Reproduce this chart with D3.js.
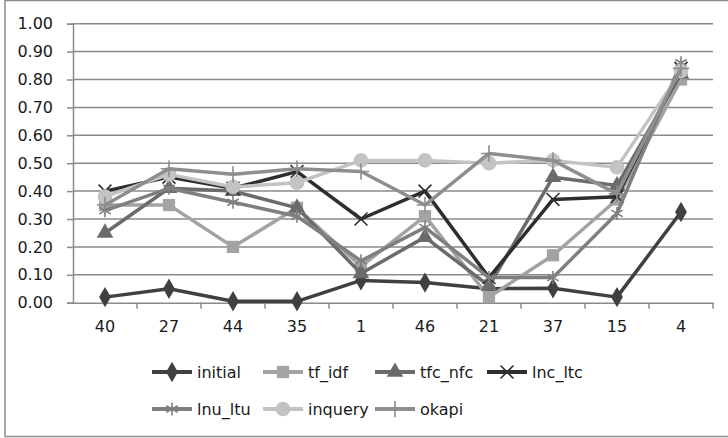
<!DOCTYPE html>
<html>
<head>
<meta charset="utf-8">
<script src="https://cdn.jsdelivr.net/npm/d3@7"></script>
<style>
  body { margin: 0; background: #fff; }
  svg { display: block; font-family: "DejaVu Sans", sans-serif; }
</style>
</head>
<body>
<svg id="chart" width="728" height="438"></svg>
<script>
(function() {
    'use strict';

    // query ids along the x axis
    var categories = ['40', '27', '44', '35', '1', '46', '21', '37', '15', '4'];
    var yTicks = [0, 0.1, 0.2, 0.3, 0.4, 0.5, 0.6, 0.7, 0.8, 0.9, 1.0];

    var initial = [0.02, 0.05, 0.005, 0.005, 0.08, 0.072, 0.05, 0.052, 0.02, 0.325];
    var tf_idf  = [0.35, 0.35, 0.20, 0.34, 0.13, 0.31, 0.02, 0.17, 0.37, 0.80];
    var tfc_nfc = [0.25, 0.41, 0.40, 0.34, 0.105, 0.235, 0.06, 0.45, 0.42, 0.82];
    var lnc_ltc = [0.40, 0.45, 0.41, 0.47, 0.30, 0.40, 0.09, 0.37, 0.38, 0.84];
    var lnu_ltu = [0.33, 0.41, 0.36, 0.31, 0.15, 0.27, 0.09, 0.09, 0.32, 0.86];
    var inquery = [0.38, 0.46, 0.415, 0.43, 0.51, 0.51, 0.50, 0.51, 0.485, 0.83];
    var okapi   = [0.35, 0.48, 0.46, 0.48, 0.47, 0.35, 0.535, 0.51, 0.39, 0.84];

    var seriesNames = ['initial', 'tf_idf', 'tfc_nfc', 'lnc_ltc', 'lnu_ltu', 'inquery', 'okapi'];
    var seriesValues = [initial, tf_idf, tfc_nfc, lnc_ltc, lnu_ltu, inquery, okapi];
    var colors = ['#404040', '#a3a3a3', '#6b6b6b', '#2e2e2e', '#7f7f7f', '#c3c3c3', '#8e8e8e'];
    var symbols = [d3.symbolDiamond, d3.symbolSquare, d3.symbolTriangle, d3.symbolTimes,
                   d3.symbolAsterisk, d3.symbolCircle, d3.symbolPlus];
    var strokeSym = [false, false, false, true, true, false, true];
    var symSize = [120, 150, 120, 110, 120, 170, 90];

    var svg = d3.select('#chart');

    /******************************************************************
        frame
     ******************************************************************/
    svg.append('rect')
        .attr('x', 5).attr('y', 0.5)
        .attr('width', 740).attr('height', 436)
        .attr('fill', '#fff')
        .attr('stroke', '#8c8c8c')
        .attr('stroke-width', 1.5);

    var x = d3.scaleBand().domain(categories).range([73, 713]);
    var y = d3.scaleLinear().domain([0, 1]).range([302.7, 23.7]);

    // gridlines
    svg.append('g')
        .selectAll('line')
        .data(yTicks.slice(1))
        .join('line')
            .attr('x1', 73).attr('x2', 713)
            .attr('y1', function(d) { return y(d); })
            .attr('y2', function(d) { return y(d); })
            .attr('stroke', '#8a8a8a')
            .attr('stroke-width', 1.5);

    var yAxis = svg.append('g')
        .attr('transform', 'translate(73,0)')
        .call(d3.axisLeft(y).tickValues(yTicks).tickFormat(d3.format('.2f'))
            .tickSize(6).tickPadding(14));

    var xAxis = svg.append('g')
        .attr('transform', 'translate(0,' + y(0) + ')')
        .call(d3.axisBottom(x).tickSize(0).tickPadding(18));

    // category separators
    svg.append('g')
        .selectAll('line')
        .data(categories)
        .join('line')
            .attr('x1', function(d) { return x(d) + x.bandwidth(); })
            .attr('x2', function(d) { return x(d) + x.bandwidth(); })
            .attr('y1', y(0)).attr('y2', y(0) + 6)
            .attr('stroke', '#8a8a8a')
            .attr('stroke-width', 1.5);

    [yAxis, xAxis].forEach(function(g) {
        g.select('.domain').attr('stroke', '#8a8a8a').attr('stroke-width', 1.5);
        g.selectAll('.tick line').attr('stroke', '#8a8a8a').attr('stroke-width', 1.5);
        g.selectAll('.tick text')
            .attr('fill', '#1a1a1a')
            .style('font-size', '16px')
            .style('font-family', '"DejaVu Sans", sans-serif');
    });

    /******************************************************************
        series
     ******************************************************************/
    var line = d3.line()
        .x(function(d, i) { return x(categories[i]) + x.bandwidth() / 2; })
        .y(function(d) { return y(d); });

    function marker(sel, i) {
        var sym = d3.symbol().type(symbols[i]).size(symSize[i]);
        sel.attr('d', sym)
            .attr('fill', strokeSym[i] ? 'none' : colors[i])
            .attr('stroke', colors[i])
            .attr('stroke-width', strokeSym[i] ? 1.6 : 0);
    }

    seriesValues.forEach(function(vals, i) {
        var g = svg.append('g');
        g.append('path')
            .attr('d', line(vals))
            .attr('fill', 'none')
            .attr('stroke', colors[i])
            .attr('stroke-width', 3.5)
            .attr('stroke-linejoin', 'round');
        g.selectAll('path.m')
            .data(vals)
            .join('path')
                .attr('class', 'm')
                .attr('transform', function(d, j) {
                    return 'translate(' + (x(categories[j]) + x.bandwidth() / 2) + ',' + y(d) + ')';
                })
                .call(marker, i);
    });

    /******************************************************************
        legend
     ******************************************************************/
    var legCols = [152, 263, 375, 487];
    var legRows = [372, 409];

    var leg = svg.append('g')
        .selectAll('g')
        .data(seriesNames)
        .join('g')
            .attr('transform', function(d, i) {
                var r = i < 4 ? 0 : 1;
                var c = i < 4 ? i : i - 4;
                return 'translate(' + legCols[c] + ',' + legRows[r] + ')';
            });

    leg.append('line')
        .attr('x1', 0).attr('x2', 40)
        .attr('stroke', function(d, i) { return colors[i]; })
        .attr('stroke-width', 4);

    leg.append('path')
        .attr('transform', 'translate(20,0)')
        .each(function(d, i) { d3.select(this).call(marker, i); });

    leg.append('text')
        .attr('x', 45)
        .attr('dy', '0.35em')
        .attr('fill', '#1a1a1a')
        .style('font-size', '16px')
        .text(function(d) { return d; });
})();
</script>
</body>
</html>
